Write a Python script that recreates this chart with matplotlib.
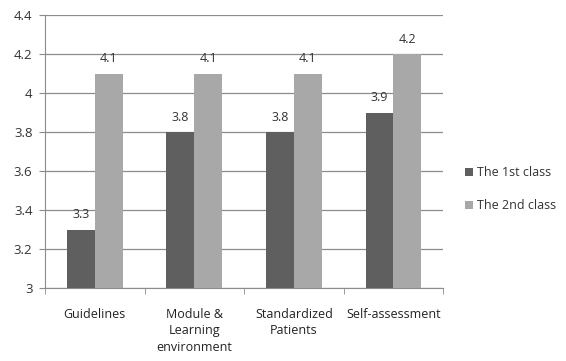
import numpy as np
import matplotlib.pyplot as plt
from matplotlib.ticker import FixedLocator

categories = ['Guidelines', 'Module &\nLearning\nenvironment', 'Standardized\nPatients', 'Self-assessment']
first_class = [3.3, 3.8, 3.8, 3.9]
second_class = [4.1, 4.1, 4.1, 4.2]
yticks = [3, 3.2, 3.4, 3.6, 3.8, 4, 4.2, 4.4]
ytick_labels = ['3', '3.2', '3.4', '3.6', '3.8', '4', '4.2', '4.4']

plt.rcParams['font.family'] = ['Open Sans', 'DejaVu Sans']

fig = plt.figure(figsize=(5.66, 3.61), dpi=100)
ax = fig.add_axes([0.0795, 0.202, 0.7035, 0.756])

x = np.arange(len(categories))
w = 0.28
b1 = ax.bar(x - w/2, np.array(first_class) - 3, w, bottom=3, color='#5f5f5f', label='The 1st class', zorder=3)
b2 = ax.bar(x + w/2, np.array(second_class) - 3, w, bottom=3, color='#a8a8a8', label='The 2nd class', zorder=3)

for xi, v in zip(x - w/2, first_class):
    ax.annotate(f'{v:g}', (xi, v), xytext=(0, 6), textcoords='offset points',
                ha='center', va='bottom', fontsize=9, color='#333333')
for xi, v in zip(x + w/2, second_class):
    ax.annotate(f'{v:g}', (xi, v), xytext=(0, 6), textcoords='offset points',
                ha='center', va='bottom', fontsize=9, color='#333333')

ax.set_xlim(-0.5, 3.5)
ax.set_ylim(3, 4.4)
ax.set_yticks(yticks)
ax.set_yticklabels(ytick_labels, fontsize=9.5, color='#333333')
ax.yaxis.grid(True, color='#8c8c8c', linewidth=0.9, zorder=0)
ax.set_xticks(x)
ax.set_xticklabels(categories, fontsize=9, color='#222222', linespacing=1.35, va='top')
ax.tick_params(axis='x', length=0, pad=14)
ax.xaxis.set_minor_locator(FixedLocator([-0.5, 0.5, 1.5, 2.5, 3.5]))
ax.tick_params(axis='x', which='minor', length=4, color='#8c8c8c')
ax.tick_params(axis='y', length=4, color='#8c8c8c', pad=5)

for s in ['top', 'right']:
    ax.spines[s].set_visible(False)
for s in ['left', 'bottom']:
    ax.spines[s].set_color('#8c8c8c')

leg = fig.legend(handles=[b1, b2], loc='upper left', bbox_to_anchor=(0.802, 0.57),
                 frameon=False, fontsize=9, handlelength=0.65, handleheight=0.7,
                 handletextpad=0.3, labelspacing=1.6)
for t in leg.get_texts():
    t.set_color('#333333')

fig.savefig('out.png', dpi=100)
